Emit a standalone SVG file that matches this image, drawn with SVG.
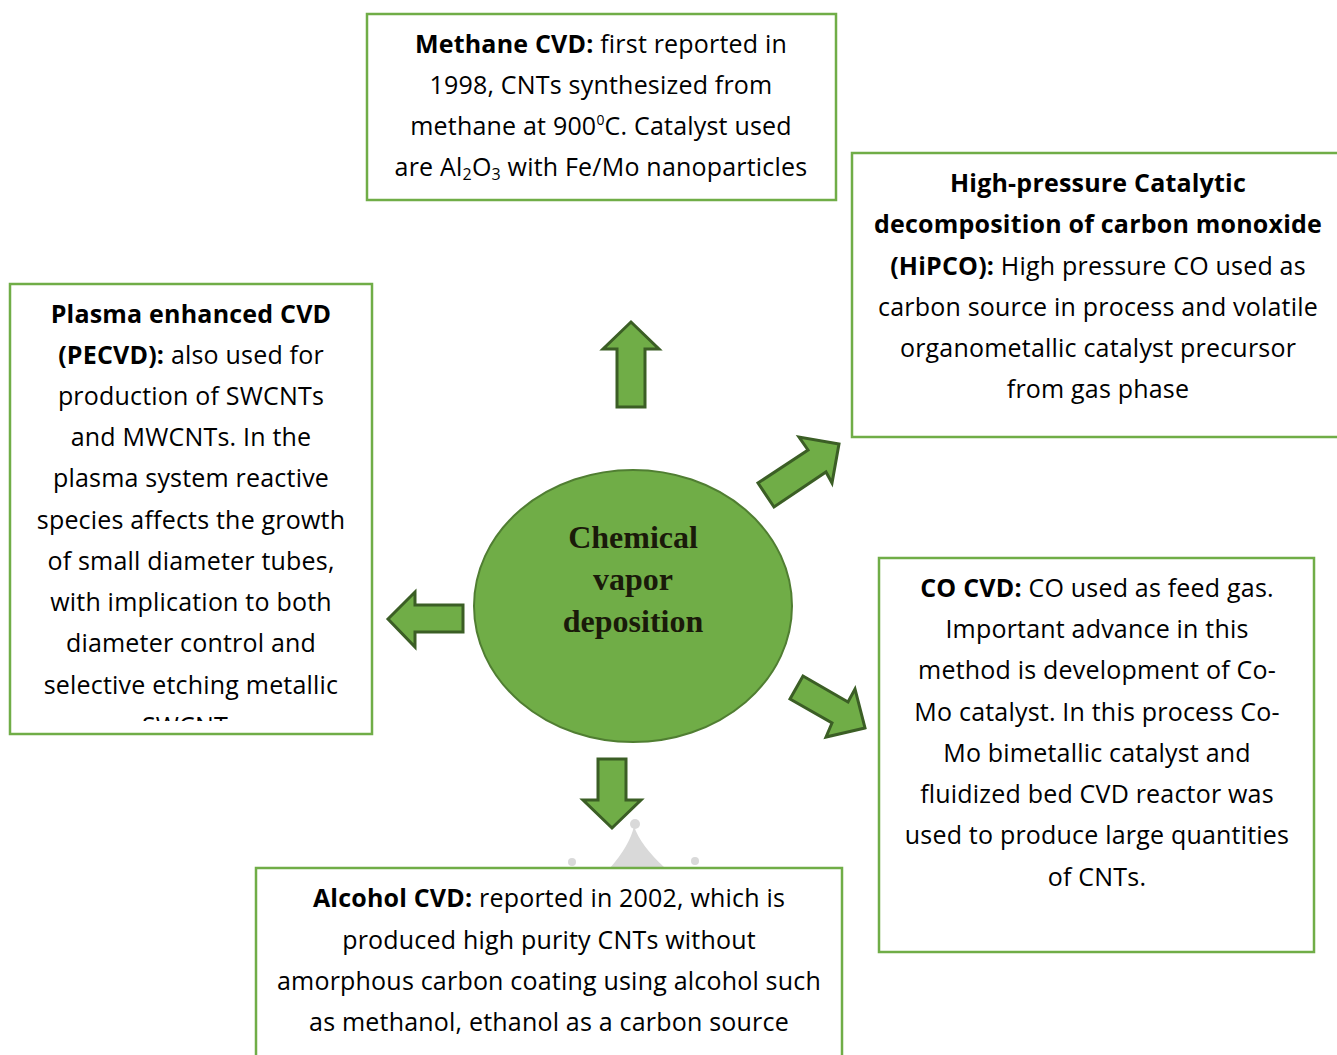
<svg xmlns="http://www.w3.org/2000/svg" width="1337" height="1055" viewBox="0 0 1337 1055">
<style>
.box{fill:#ffffff;stroke:#70ad47;stroke-width:2.5}
.t{font-family:"Open Sans",Lato,"Liberation Sans",sans-serif;font-size:25px;letter-spacing:0.2px;fill:#000;text-anchor:middle}
.b{font-weight:bold}
.arr{fill:#70ad47;stroke:#3b5e25;stroke-width:3;stroke-linejoin:miter}
.ct{font-family:"Liberation Serif","Times New Roman",serif;font-size:32px;font-weight:bold;fill:#1a1a0a;text-anchor:middle}
</style>
<defs>
<clipPath id="clipPe"><rect x="10" y="284" width="362" height="437"/></clipPath>
</defs>
<rect width="1337" height="1055" fill="#ffffff"/>
<g id="watermark" fill="#d9d9d9">
<path d="M 610 868 Q 630 845 634 826 Q 640 845 665 868 Z"/>
<circle cx="635" cy="824" r="5"/>
<circle cx="572" cy="862" r="4"/>
<circle cx="695" cy="861" r="4"/>
</g>
<g id="connectors">
<polygon class="arr" points="631,322 659,349 645,349 645,407 617,407 617,349 603,349"/>
<polygon class="arr" points="388,619 415,592 415,605 463,605 463,632 415,632 415,647"/>
<polygon class="arr" points="612,828 641,800 626,800 626,759 598,759 598,800 583,800"/>
<polygon class="arr" points="839,444 832,483 826,472 774,507 758,483 808,450 799,437"/>
<polygon class="arr" points="865,728 826,737 832,723 790,699 803,676 848,702 855,689"/>
</g>
<g id="center">
<ellipse cx="633" cy="606" rx="159" ry="136" fill="#70ad47" stroke="#507e32" stroke-width="2"/>
<text class="ct" x="633" y="548">Chemical</text>
<text class="ct" x="633" y="590">vapor</text>
<text class="ct" x="633" y="632">deposition</text>
</g>
<g id="methane">
<rect class="box" x="367" y="14" width="469" height="186"/>
<text class="t" x="601" y="53"><tspan class="b">Methane CVD:</tspan> first reported in</text>
<text class="t" x="601" y="94">1998, CNTs synthesized from</text>
<text class="t" x="601" y="135">methane at 900<tspan font-size="14" dy="-10">0</tspan><tspan dy="10">C. Catalyst used</tspan></text>
<text class="t" x="601" y="176">are Al<tspan font-size="16" dy="4">2</tspan><tspan dy="-4">O</tspan><tspan font-size="16" dy="4">3</tspan><tspan dy="-4"> with Fe/Mo nanoparticles</tspan></text>
</g>
<g id="hipco">
<rect class="box" x="852" y="153" width="495" height="284"/>
<text class="t b" x="1098" y="192">High-pressure Catalytic</text>
<text class="t b" x="1098" y="233">decomposition of carbon monoxide</text>
<text class="t" x="1098" y="275"><tspan class="b">(HiPCO):</tspan> High pressure CO used as</text>
<text class="t" x="1098" y="316">carbon source in process and volatile</text>
<text class="t" x="1098" y="357">organometallic catalyst precursor</text>
<text class="t" x="1098" y="398">from gas phase</text>
</g>
<g id="pecvd">
<rect class="box" x="10" y="284" width="362" height="450"/>
<g clip-path="url(#clipPe)">
<text class="t" x="191" y="323"><tspan class="b">Plasma enhanced CVD</tspan></text>
<text class="t" x="191" y="364"><tspan class="b">(PECVD):</tspan> also used for</text>
<text class="t" x="191" y="405">production of SWCNTs</text>
<text class="t" x="191" y="446">and MWCNTs. In the</text>
<text class="t" x="191" y="487">plasma system reactive</text>
<text class="t" x="191" y="529">species affects the growth</text>
<text class="t" x="191" y="570">of small diameter tubes,</text>
<text class="t" x="191" y="611">with implication to both</text>
<text class="t" x="191" y="652">diameter control and</text>
<text class="t" x="191" y="694">selective etching metallic</text>
<text class="t" x="191" y="735">SWCNTs</text>
</g>
</g>
<g id="cocvd">
<rect class="box" x="879" y="558" width="435" height="394"/>
<text class="t" x="1097" y="597"><tspan class="b">CO CVD:</tspan> CO used as feed gas.</text>
<text class="t" x="1097" y="638">Important advance in this</text>
<text class="t" x="1097" y="679">method is development of Co-</text>
<text class="t" x="1097" y="721">Mo catalyst. In this process Co-</text>
<text class="t" x="1097" y="762">Mo bimetallic catalyst and</text>
<text class="t" x="1097" y="803">fluidized bed CVD reactor was</text>
<text class="t" x="1097" y="844">used to produce large quantities</text>
<text class="t" x="1097" y="886">of CNTs.</text>
</g>
<g id="alcohol">
<rect class="box" x="256" y="868" width="586" height="200"/>
<text class="t" x="549" y="907"><tspan class="b">Alcohol CVD:</tspan> reported in 2002, which is</text>
<text class="t" x="549" y="949">produced high purity CNTs without</text>
<text class="t" x="549" y="990">amorphous carbon coating using alcohol such</text>
<text class="t" x="549" y="1031">as methanol, ethanol as a carbon source</text>
</g>
</svg>
